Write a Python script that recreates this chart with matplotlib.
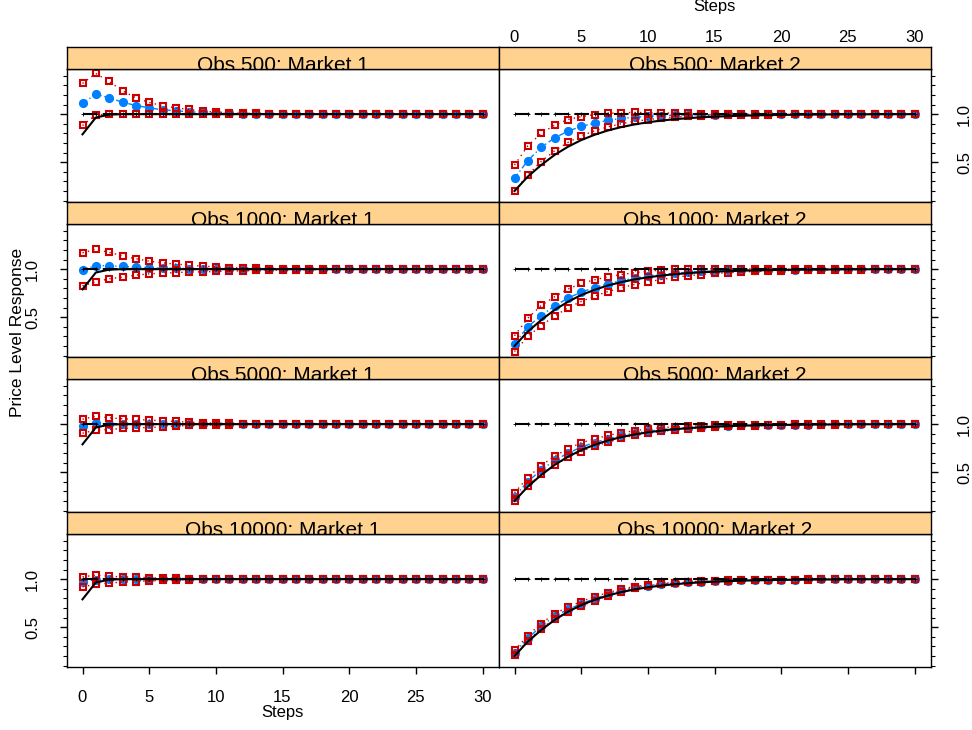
import matplotlib
matplotlib.use("Agg")
import matplotlib.pyplot as plt
from matplotlib.ticker import MultipleLocator

plt.rcParams['font.family'] = ['Liberation Sans', 'DejaVu Sans']

steps = list(range(31))
obs_levels = [500, 1000, 5000, 10000]
markets = ["Market 1", "Market 2"]

# true response and long-run reference
true_m1 = [0.79, 0.965, 0.995, 1.0, 1.0, 1.0, 1.0, 1.0, 1.0, 1.0, 1.0, 1.0, 1.0, 1.0, 1.0, 1.0,
           1.0, 1.0, 1.0, 1.0, 1.0, 1.0, 1.0, 1.0, 1.0, 1.0, 1.0, 1.0, 1.0, 1.0, 1.0]
true_m2 = [0.2, 0.35, 0.47, 0.575, 0.66, 0.73, 0.785, 0.83, 0.865, 0.893, 0.915, 0.933, 0.947, 0.958,
           0.967, 0.974, 0.979, 0.984, 0.987, 0.99, 0.992, 0.994, 0.995, 0.996, 0.997, 0.998, 0.998,
           0.999, 0.999, 0.999, 1.0]
long_run = [1.0, 1.0, 1.0, 1.0, 1.0, 1.0, 1.0, 1.0, 1.0, 1.0, 1.0, 1.0, 1.0, 1.0, 1.0, 1.0,
            1.0, 1.0, 1.0, 1.0, 1.0, 1.0, 1.0, 1.0, 1.0, 1.0, 1.0, 1.0, 1.0, 1.0, 1.0]

# Market 1 estimates: mean, upper band, lower band
m1_500_mean = [1.111, 1.208, 1.17, 1.125, 1.09, 1.066, 1.045, 1.035, 1.025, 1.018, 1.012, 1.008, 1.005,
               1.004, 1.003, 1.002, 1.001, 1.001, 1.0, 1.0, 1.0, 1.0, 1.0, 1.0, 1.0, 1.0, 1.0, 1.0, 1.0, 1.0, 1.0]
m1_500_up = [1.32, 1.424, 1.34, 1.243, 1.17, 1.122, 1.087, 1.066, 1.049, 1.031, 1.021, 1.015, 1.01, 1.007,
             1.005, 1.003, 1.002, 1.001, 1.0, 1.0, 1.0, 1.0, 1.0, 1.0, 1.0, 1.0, 1.0, 1.0, 1.0, 1.0, 1.0]
m1_500_lo = [0.882, 0.993, 0.998, 1.0, 1.0, 1.0, 1.0, 1.0, 1.0, 1.0, 1.0, 1.0, 1.0, 1.0, 1.0, 1.0,
             1.0, 1.0, 1.0, 1.0, 1.0, 1.0, 1.0, 1.0, 1.0, 1.0, 1.0, 1.0, 1.0, 1.0, 1.0]

m1_1000_mean = [0.993, 1.038, 1.035, 1.028, 1.021, 1.014, 1.01, 1.007, 1.005, 1.003, 1.002, 1.001, 1.001,
                1.0, 1.0, 1.0, 1.0, 1.0, 1.0, 1.0, 1.0, 1.0, 1.0, 1.0, 1.0, 1.0, 1.0, 1.0, 1.0, 1.0, 1.0]
m1_1000_up = [1.17, 1.208, 1.174, 1.139, 1.108, 1.083, 1.066, 1.052, 1.042, 1.031, 1.024, 1.017, 1.01,
              1.007, 1.005, 1.003, 1.002, 1.001, 1.0, 1.0, 1.0, 1.0, 1.0, 1.0, 1.0, 1.0, 1.0, 1.0, 1.0, 1.0, 1.0]
m1_1000_lo = [0.826, 0.868, 0.9, 0.917, 0.938, 0.951, 0.958, 0.965, 0.969, 0.972, 0.976, 0.979, 0.983,
              0.986, 0.989, 0.991, 0.993, 0.995, 0.996, 0.997, 0.998, 0.999, 0.999, 1.0, 1.0, 1.0, 1.0,
              1.0, 1.0, 1.0, 1.0]

m1_5000_mean = [0.98, 1.007, 1.004, 1.003, 1.002, 1.002, 1.001, 1.001, 1.0, 1.0, 1.0, 1.0, 1.0, 1.0, 1.0,
                1.0, 1.0, 1.0, 1.0, 1.0, 1.0, 1.0, 1.0, 1.0, 1.0, 1.0, 1.0, 1.0, 1.0, 1.0, 1.0]
m1_5000_up = [1.052, 1.083, 1.066, 1.056, 1.049, 1.042, 1.035, 1.028, 1.02, 1.014, 1.01, 1.007, 1.005,
              1.003, 1.002, 1.001, 1.0, 1.0, 1.0, 1.0, 1.0, 1.0, 1.0, 1.0, 1.0, 1.0, 1.0, 1.0, 1.0, 1.0, 1.0]
m1_5000_lo = [0.906, 0.938, 0.944, 0.955, 0.962, 0.965, 0.972, 0.98, 0.986, 0.99, 0.993, 0.995, 0.997,
              0.998, 0.999, 1.0, 1.0, 1.0, 1.0, 1.0, 1.0, 1.0, 1.0, 1.0, 1.0, 1.0, 1.0, 1.0, 1.0, 1.0, 1.0]

m1_10000_mean = [0.972, 0.996, 0.998, 0.999, 1.0, 1.0, 1.0, 1.0, 1.0, 1.0, 1.0, 1.0, 1.0, 1.0, 1.0, 1.0,
                 1.0, 1.0, 1.0, 1.0, 1.0, 1.0, 1.0, 1.0, 1.0, 1.0, 1.0, 1.0, 1.0, 1.0, 1.0]
m1_10000_up = [1.024, 1.042, 1.03, 1.025, 1.02, 1.015, 1.01, 1.008, 1.005, 1.003, 1.002, 1.001, 1.0, 1.0,
               1.0, 1.0, 1.0, 1.0, 1.0, 1.0, 1.0, 1.0, 1.0, 1.0, 1.0, 1.0, 1.0, 1.0, 1.0, 1.0, 1.0]
m1_10000_lo = [0.92, 0.948, 0.96, 0.97, 0.975, 0.982, 0.988, 0.992, 0.995, 0.997, 0.998, 0.999, 1.0, 1.0,
               1.0, 1.0, 1.0, 1.0, 1.0, 1.0, 1.0, 1.0, 1.0, 1.0, 1.0, 1.0, 1.0, 1.0, 1.0, 1.0, 1.0]

# Market 2 estimates
m2_500_mean = [0.333, 0.517, 0.655, 0.752, 0.822, 0.872, 0.908, 0.935, 0.955, 0.968, 0.977, 0.984, 0.989,
               0.992, 0.994, 0.996, 0.997, 0.998, 0.999, 0.999, 1.0, 1.0, 1.0, 1.0, 1.0, 1.0, 1.0, 1.0, 1.0, 1.0, 1.0]
m2_500_up = [0.47, 0.67, 0.8, 0.885, 0.944, 0.974, 0.995, 1.008, 1.014, 1.018, 1.016, 1.013, 1.01, 1.008,
             1.006, 1.004, 1.003, 1.002, 1.001, 1.0, 1.0, 1.0, 1.0, 1.0, 1.0, 1.0, 1.0, 1.0, 1.0, 1.0, 1.0]
m2_500_lo = [0.2, 0.368, 0.507, 0.618, 0.705, 0.774, 0.826, 0.868, 0.9, 0.925, 0.943, 0.958, 0.969, 0.977,
             0.983, 0.988, 0.991, 0.993, 0.995, 0.996, 0.997, 0.998, 0.999, 0.999, 1.0, 1.0, 1.0, 1.0, 1.0, 1.0, 1.0]

m2_1000_mean = [0.226, 0.4, 0.517, 0.615, 0.698, 0.76, 0.809, 0.847, 0.882, 0.906, 0.927, 0.944, 0.958,
                0.968, 0.976, 0.982, 0.986, 0.99, 0.992, 0.994, 0.995, 0.996, 0.997, 0.998, 0.999, 0.999,
                1.0, 1.0, 1.0, 1.0, 1.0]
m2_1000_up = [0.306, 0.49, 0.622, 0.712, 0.792, 0.851, 0.889, 0.92, 0.944, 0.962, 0.979, 0.99, 0.997, 1.0,
              1.002, 1.003, 1.003, 1.002, 1.002, 1.001, 1.0, 1.0, 1.0, 1.0, 1.0, 1.0, 1.0, 1.0, 1.0, 1.0, 1.0]
m2_1000_lo = [0.142, 0.299, 0.413, 0.51, 0.597, 0.663, 0.719, 0.767, 0.806, 0.84, 0.868, 0.892, 0.915,
              0.932, 0.944, 0.955, 0.963, 0.97, 0.976, 0.98, 0.984, 0.987, 0.99, 0.992, 0.994, 0.995, 0.996,
              0.997, 0.998, 0.999, 0.999]

m2_5000_mean = [0.245, 0.403, 0.524, 0.622, 0.698, 0.76, 0.809, 0.847, 0.882, 0.906, 0.927, 0.943, 0.956,
                0.965, 0.972, 0.978, 0.983, 0.986, 0.989, 0.991, 0.993, 0.995, 0.996, 0.997, 0.998, 0.998,
                0.999, 0.999, 1.0, 1.0, 1.0]
m2_5000_up = [0.285, 0.444, 0.569, 0.667, 0.743, 0.806, 0.847, 0.882, 0.91, 0.931, 0.951, 0.962, 0.972,
              0.979, 0.983, 0.986, 0.99, 0.992, 0.994, 0.995, 0.996, 0.997, 0.998, 0.998, 0.999, 0.999,
              1.0, 1.0, 1.0, 1.0, 1.0]
m2_5000_lo = [0.205, 0.361, 0.479, 0.576, 0.653, 0.715, 0.771, 0.812, 0.854, 0.882, 0.903, 0.924, 0.941,
              0.951, 0.962, 0.969, 0.976, 0.98, 0.984, 0.987, 0.99, 0.992, 0.994, 0.995, 0.996, 0.997,
              0.998, 0.998, 0.999, 0.999, 1.0]

m2_10000_mean = [0.236, 0.386, 0.51, 0.613, 0.685, 0.743, 0.797, 0.842, 0.882, 0.914, 0.933, 0.95, 0.961,
                 0.969, 0.975, 0.981, 0.985, 0.989, 0.991, 0.993, 0.995, 0.996, 0.997, 0.997, 0.998, 0.998,
                 0.999, 0.999, 1.0, 1.0, 1.0]
m2_10000_up = [0.259, 0.413, 0.538, 0.64, 0.71, 0.766, 0.818, 0.86, 0.895, 0.923, 0.94, 0.955, 0.965,
               0.972, 0.978, 0.983, 0.987, 0.99, 0.992, 0.994, 0.995, 0.996, 0.997, 0.998, 0.998, 0.999,
               0.999, 1.0, 1.0, 1.0, 1.0]
m2_10000_lo = [0.213, 0.36, 0.483, 0.587, 0.66, 0.72, 0.776, 0.825, 0.87, 0.906, 0.927, 0.945, 0.957,
               0.966, 0.973, 0.979, 0.984, 0.988, 0.99, 0.993, 0.994, 0.995, 0.996, 0.997, 0.998, 0.998,
               0.999, 0.999, 1.0, 1.0, 1.0]

panels = {
    (500, 0): (m1_500_mean, m1_500_up, m1_500_lo),
    (500, 1): (m2_500_mean, m2_500_up, m2_500_lo),
    (1000, 0): (m1_1000_mean, m1_1000_up, m1_1000_lo),
    (1000, 1): (m2_1000_mean, m2_1000_up, m2_1000_lo),
    (5000, 0): (m1_5000_mean, m1_5000_up, m1_5000_lo),
    (5000, 1): (m2_5000_mean, m2_5000_up, m2_5000_lo),
    (10000, 0): (m1_10000_mean, m1_10000_up, m1_10000_lo),
    (10000, 1): (m2_10000_mean, m2_10000_up, m2_10000_lo),
}
truths = [true_m1, true_m2]

# common y range like lattice (data range + 4%)
allv = [v for s in panels.values() for arr in s for v in arr] + true_m1 + true_m2
lo, hi = min(allv), max(allv)
pad = 0.04 * (hi - lo)
ylim = (lo - pad, hi + pad)
xlim = (-1.2, 31.2)

W, H = 972, 730
fig = plt.figure(figsize=(W / 100, H / 100), dpi=100)

left0, colw = 66.5, 432
top0, striph, panelh = 46.5, 22, 133
strip_col = '#FFD28F'
blue = '#0080FF'
red = '#CC0000'

for r, n in enumerate(obs_levels):
    for c in range(2):
        x0 = left0 + c * colw
        top = top0 + r * (striph + panelh)
        ax = fig.add_axes([x0 / W, 1 - (top + striph + panelh) / H, colw / W, panelh / H])
        sx = fig.add_axes([x0 / W, 1 - (top + striph) / H, colw / W, striph / H])

        mean, up, low = panels[(n, c)]
        ax.plot(steps, mean, color=blue, lw=1, ls=(0, (4, 2, 1, 2)), marker='o', ms=5.6,
                mec=blue, mfc=blue, zorder=2)
        for band in (up, low):
            ax.plot(steps, band, color=red, lw=1, ls=(0, (1, 3)), marker='s', ms=4.8,
                    mfc='none', mec=red, mew=1.5, zorder=3)
        ax.plot(steps, long_run, color='black', lw=1.5, ls=(0, (7, 2.5)), marker='+', ms=3,
                mew=0.6, zorder=4)
        ax.plot(steps, truths[c], color='black', lw=1.5, zorder=5)

        ax.set_xlim(*xlim)
        ax.set_ylim(*ylim)
        ax.xaxis.set_major_locator(MultipleLocator(5))
        ax.yaxis.set_major_locator(MultipleLocator(0.5))
        ax.yaxis.set_minor_locator(MultipleLocator(0.1))
        ax.yaxis.set_major_formatter(matplotlib.ticker.FormatStrFormatter('%.1f'))
        for sp in ax.spines.values():
            sp.set_linewidth(1)

        ax.tick_params(axis='x', which='both', direction='out', length=5, width=1, labelsize=12,
                       top=(r == 0), bottom=(r == 3),
                       labeltop=(r == 0 and c == 1), labelbottom=(r == 3 and c == 0),
                       pad=12)
        ax.tick_params(axis='y', which='major', direction='out', length=5, width=1, labelsize=12,
                       left=(c == 0), right=(c == 1),
                       labelleft=(c == 0 and r in (1, 3)), labelright=(c == 1 and r in (0, 2)),
                       labelrotation=90, pad=14)
        ax.tick_params(axis='y', which='minor', direction='out', length=3, width=0.8,
                       left=(c == 0), right=(c == 1))
        for lab in ax.get_yticklabels():
            lab.set_va('center')

        sx.set_facecolor(strip_col)
        sx.set_xticks([])
        sx.set_yticks([])
        for sp in sx.spines.values():
            sp.set_linewidth(1)
        sx.text(0.5, -0.1, f"Obs {n}: {markets[c]}", transform=sx.transAxes, ha='center',
                va='baseline', fontsize=15, clip_on=True)

fig.text((left0 + colw / 2) / W, 1 - 712 / H, "Steps", ha='center', va='center', fontsize=12)
fig.text((left0 + 1.5 * colw) / W, 1 - 6 / H, "Steps", ha='center', va='center', fontsize=12)
fig.text(18 / W, 1 - 332 / H, "Price Level Response", ha='center', va='center',
         rotation=90, fontsize=12.5)

fig.savefig("out.png", dpi=100)
